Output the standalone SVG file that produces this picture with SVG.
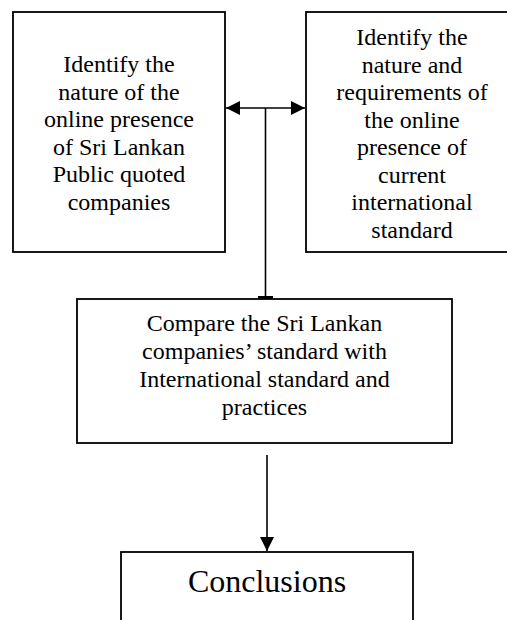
<svg xmlns="http://www.w3.org/2000/svg" width="507" height="620" viewBox="0 0 507 620">
<style>
.box{fill:#fff;stroke:#000;stroke-width:1.8}
.t{font-family:"Liberation Serif","Times New Roman",serif;font-size:24px;fill:#000;text-anchor:middle}
.big{font-size:32px}
.ln{stroke:#000;stroke-width:1.6;fill:none}
</style>
<defs>
<marker id="ah" viewBox="0 0 10 10" refX="10" refY="5" markerWidth="15" markerHeight="14" markerUnits="userSpaceOnUse" orient="auto-start-reverse">
<path d="M0,0 L10,5 L0,10 Z" fill="#000"/>
</marker>
</defs>
<g id="n1">
<rect class="box" x="13" y="12" width="212" height="240"/>
<text class="t"><tspan x="119" y="72">Identify the</tspan><tspan x="119" y="99.5">nature of the</tspan><tspan x="119" y="127">online presence</tspan><tspan x="119" y="154.5">of Sri Lankan</tspan><tspan x="119" y="182">Public quoted</tspan><tspan x="119" y="209.5">companies</tspan></text>
</g>
<g id="n2">
<rect class="box" x="306" y="12" width="212" height="240"/>
<text class="t"><tspan x="412" y="45">Identify the</tspan><tspan x="412" y="72.5">nature and</tspan><tspan x="412" y="100">requirements of</tspan><tspan x="412" y="127.5">the online</tspan><tspan x="412" y="155">presence of</tspan><tspan x="412" y="182.5">current</tspan><tspan x="412" y="210">international</tspan><tspan x="412" y="237.5">standard</tspan></text>
</g>
<g id="n3">
<rect class="box" x="77" y="299" width="375" height="144"/>
<text class="t"><tspan x="264.5" y="331">Compare the Sri Lankan</tspan><tspan x="264.5" y="359">companies’ standard with</tspan><tspan x="264.5" y="387">International standard and</tspan><tspan x="264.5" y="415">practices</tspan></text>
</g>
<g id="n4">
<rect class="box" x="121" y="552" width="292" height="90"/>
<text class="t big" x="267" y="592">Conclusions</text>
</g>
<g id="connectors">
<line class="ln" x1="226" y1="108" x2="305" y2="108" marker-start="url(#ah)" marker-end="url(#ah)"/>
<line class="ln" x1="265.5" y1="108" x2="265.5" y2="297"/>
<rect x="258" y="296" width="15" height="3" fill="#000"/>
<line class="ln" x1="267" y1="455" x2="267" y2="551" marker-end="url(#ah)"/>
</g>
</svg>
